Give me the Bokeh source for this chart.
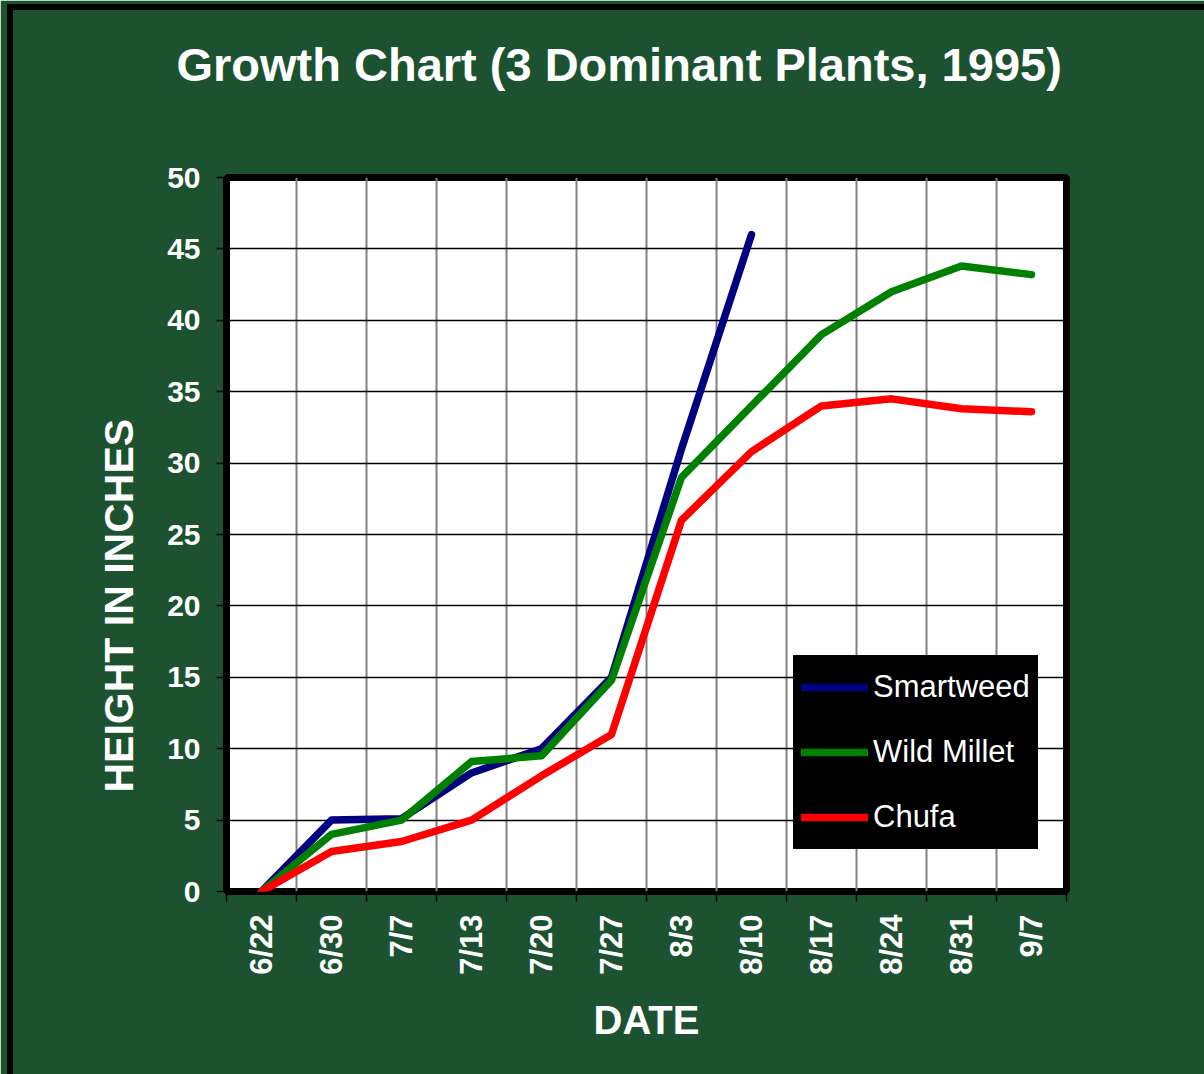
import math
from bokeh.plotting import figure
from bokeh.models import Range1d, FixedTicker, Title, InlineStyleSheet
from bokeh.embed import file_html
from bokeh.resources import INLINE

dates = ["6/22", "6/30", "7/7", "7/13", "7/20", "7/27", "8/3", "8/10",
         "8/17", "8/24", "8/31", "9/7"]
smartweed = [0, 5.0, 5.1, 8.3, 10.0, 15.0, 31.0, 46.0]
wild_millet = [0, 4.0, 5.0, 9.1, 9.5, 14.8, 29.0, 34.0, 39.0, 42.0, 43.8, 43.2]
chufa = [0, 2.8, 3.5, 5.0, 8.1, 11.0, 26.0, 30.8, 34.0, 34.5, 33.8, 33.6]
y_ticks = list(range(0, 51, 5))

FONT = "Liberation Sans"
BG = "#1c5230"

centers = [i + 0.5 for i in range(len(dates))]
bounds = list(range(len(dates) + 1))

p = figure(frame_width=840, frame_height=714,
           min_border_left=226, min_border_right=138,
           min_border_top=177, min_border_bottom=183,
           x_range=Range1d(0, len(dates)), y_range=Range1d(0, 50),
           output_backend="svg", toolbar_location=None)

p.border_fill_color = BG
p.background_fill_color = "white"
p.outline_line_color = "black"
p.outline_line_width = 7

# grid
p.xgrid.ticker = FixedTicker(ticks=bounds)
p.xgrid.grid_line_color = "#808080"
p.xgrid.grid_line_width = 2
p.ygrid.ticker = FixedTicker(ticks=y_ticks)
p.ygrid.grid_line_color = "black"
p.ygrid.grid_line_width = 1.3

# x axis
xa = p.xaxis[0]
xa.ticker = FixedTicker(ticks=centers, minor_ticks=bounds)
xa.major_label_overrides = {c: d for c, d in zip(centers, dates)}
xa.major_label_orientation = math.pi / 2
xa.major_tick_line_color = None
xa.major_tick_out = 0
xa.major_tick_in = 0
xa.minor_tick_line_color = "black"
xa.minor_tick_line_width = 1.5
xa.minor_tick_out = 10
xa.minor_tick_in = 0
xa.axis_line_color = None
xa.major_label_standoff = 13
xa.major_label_text_font = FONT
xa.major_label_text_font_style = "bold"
xa.major_label_text_font_size = "31px"
xa.major_label_text_color = "white"
xa.axis_label = "DATE"
xa.axis_label_text_font = FONT
xa.axis_label_text_font_style = "bold"
xa.axis_label_text_font_size = "40px"
xa.axis_label_text_color = "white"
xa.axis_label_standoff = 20

# y axis
ya = p.yaxis[0]
ya.ticker = FixedTicker(ticks=y_ticks)
ya.major_tick_line_color = "black"
ya.major_tick_line_width = 1.5
ya.major_tick_out = 10
ya.major_tick_in = 0
ya.minor_tick_line_color = None
ya.axis_line_color = None
ya.major_label_standoff = 16
ya.major_label_text_font = FONT
ya.major_label_text_font_style = "bold"
ya.major_label_text_font_size = "30px"
ya.major_label_text_color = "white"

# lines
p.line(centers[:len(smartweed)], smartweed, line_color="#000080", line_width=7.5,
       line_join="round", line_cap="round", legend_label="Smartweed")
p.line(centers[:len(wild_millet)], wild_millet, line_color="#008000", line_width=7.5,
       line_join="round", line_cap="round", legend_label="Wild Millet")
p.line(centers[:len(chufa)], chufa, line_color="#ff0000", line_width=7.5,
       line_join="round", line_cap="round", legend_label="Chufa")

lg = p.legend[0]
lg.location = (567, 42)
lg.background_fill_color = "black"
lg.background_fill_alpha = 1
lg.border_line_color = "black"
lg.border_line_width = 8
lg.label_text_color = "white"
lg.label_text_font = FONT
lg.label_text_font_size = "31px"
lg.glyph_width = 67
lg.glyph_height = 48
lg.label_height = 48
lg.spacing = 17
lg.padding = 0
lg.label_standoff = 5
lg.margin = 0

# real title, plus a spacer (background-coloured dot) between it and the frame
p.title.text = "Growth Chart (3 Dominant Plants, 1995)"
p.title.align = "left"
p.title.offset = -50
p.title.text_font = FONT
p.title.text_font_style = "bold"
p.title.text_font_size = "47px"
p.title.text_color = "white"
p.title.standoff = 10

spacer = Title(text=".", text_color=BG, text_font_size="10px", standoff=72)
p.add_layout(spacer, "above")

yt = Title(text="HEIGHT IN INCHES", align="left", offset=99,
           text_font=FONT, text_font_style="bold", text_font_size="41px",
           text_color="white", standoff=45)
p.add_layout(yt, "left")

# outer black frame on the left and top edges
p.stylesheets = [InlineStyleSheet(css="""
:host { position: relative; }
:host::before { content: ""; position: absolute; left: 7px; top: 4px;
  width: 6px; height: 1070px; background: black; z-index: 10; pointer-events: none; }
:host::after { content: ""; position: absolute; left: 7px; top: 4px;
  width: 1197px; height: 6px; background: black; z-index: 10; pointer-events: none; }
""")]

open("out.html", "w").write(file_html(p, INLINE))
